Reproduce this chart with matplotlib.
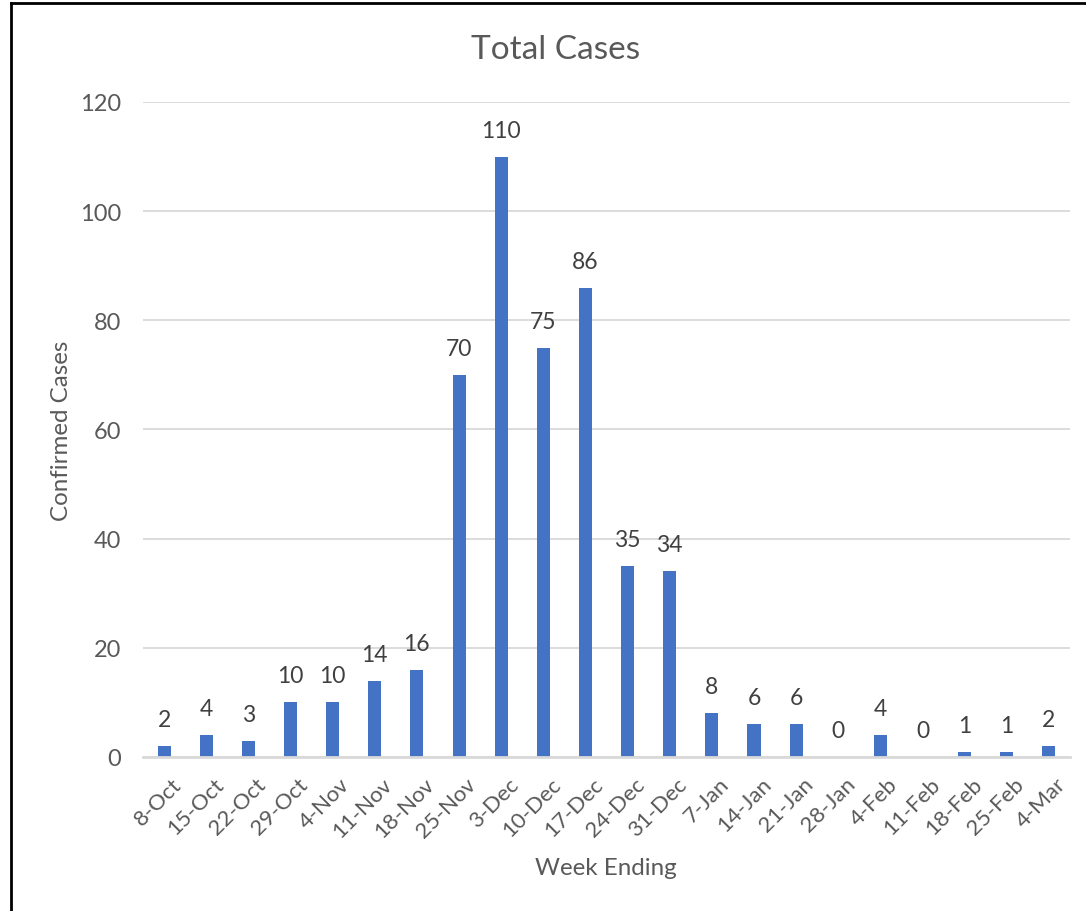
import matplotlib
matplotlib.use("Agg")
import matplotlib.pyplot as plt
from matplotlib.lines import Line2D
from matplotlib.transforms import ScaledTranslation

weeks = ["8-Oct", "15-Oct", "22-Oct", "29-Oct", "4-Nov", "11-Nov", "18-Nov", "25-Nov",
         "3-Dec", "10-Dec", "17-Dec", "24-Dec", "31-Dec", "7-Jan", "14-Jan", "21-Jan",
         "28-Jan", "4-Feb", "11-Feb", "18-Feb", "25-Feb", "4-Mar"]
cases = [2, 4, 3, 10, 10, 14, 16, 70, 110, 75, 86, 35, 34, 8, 6, 6, 0, 4, 0, 1, 1, 2]
yticks = [0, 20, 40, 60, 80, 100, 120]

plt.rcParams['font.family'] = ['Lato', 'DejaVu Sans']
TXT = '#595959'

fig = plt.figure(figsize=(10.86, 9.12), dpi=100)
ax = fig.add_axes([0.1317, 0.1689, 0.8536, 0.7182])

x = list(range(len(weeks)))
bars = ax.bar(x, cases, width=0.31, color='#4472C4', zorder=3)
ax.set_xlim(-0.5, len(weeks) - 0.5)
ax.set_ylim(0, 120)
ax.set_yticks(yticks)
ax.yaxis.grid(True, color='#D9D9D9', linewidth=1.3, zorder=0)
for s in ['top', 'right', 'left']:
    ax.spines[s].set_visible(False)
ax.spines['bottom'].set_color('#D9D9D9')
ax.spines['bottom'].set_linewidth(2)
ax.spines['bottom'].set_zorder(4)
ax.tick_params(axis='y', length=0, labelsize=17, labelcolor=TXT, pad=16)
ax.set_xticks(x)
ax.set_xticklabels(weeks, rotation=45, ha='right', rotation_mode='anchor', va='top')
ax.tick_params(axis='x', length=0, labelsize=16, labelcolor=TXT, pad=12)
off = ScaledTranslation(7/100, 0, fig.dpi_scale_trans)
for lbl in ax.get_xticklabels():
    lbl.set_transform(lbl.get_transform() + off)

for xi, v in zip(x, cases):
    ax.annotate(str(v), (xi, v), xytext=(0, 19), textcoords='offset points',
                ha='center', va='center', fontsize=16.5, color='#404040')

fig.text(0.5112, 0.9455, 'Total Cases', ha='center', va='center', fontsize=24, color=TXT)
fig.text(0.558, 0.048, 'Week Ending', ha='center', va='center', fontsize=17.4, color=TXT)
fig.text(0.057, 0.528, 'Confirmed Cases', ha='center', va='center', fontsize=17.4,
         color=TXT, rotation=90)

fig.add_artist(Line2D([11/1086, 11/1086], [0, 1 - 4/912], transform=fig.transFigure,
                      color='black', linewidth=2))
fig.add_artist(Line2D([11/1086, 1], [1 - 4/912, 1 - 4/912], transform=fig.transFigure,
                      color='black', linewidth=2))

fig.savefig('out.png', dpi=100)
